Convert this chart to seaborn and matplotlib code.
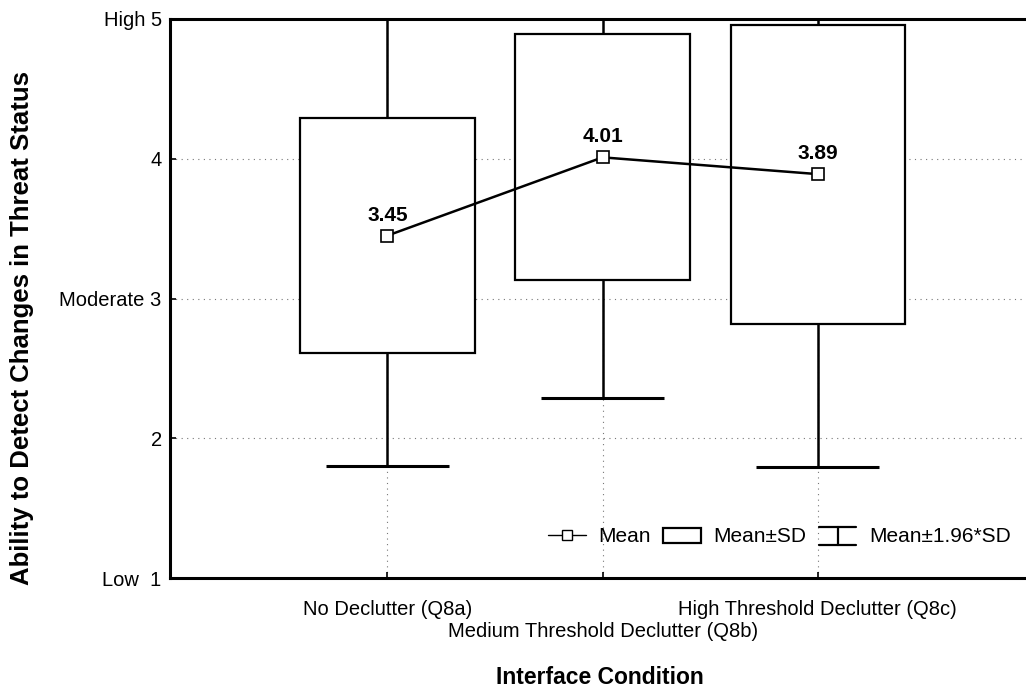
import numpy as np
import pandas as pd
import matplotlib
matplotlib.use("Agg")
import matplotlib.pyplot as plt
import seaborn as sns
from matplotlib.lines import Line2D
from matplotlib.patches import Rectangle
from matplotlib.legend_handler import HandlerBase

# values
conditions = ["No Declutter (Q8a)", "Medium Threshold Declutter (Q8b)", "High Threshold Declutter (Q8c)"]
means = [3.45, 4.01, 3.89]
sds = [0.84, 0.88, 1.07]
ytick_vals = [1, 2, 3, 4, 5]
ytick_labels = ["Low  1", "2", "Moderate 3", "4", "High 5"]

sns.set_style("white")
plt.rcParams['font.family'] = ['Liberation Sans', 'DejaVu Sans']
plt.rcParams['text.color'] = 'black'
plt.rcParams['axes.labelcolor'] = 'black'
plt.rcParams['xtick.color'] = 'black'
plt.rcParams['ytick.color'] = 'black'

df = pd.DataFrame({'condition': conditions, 'mean': means, 'sd': sds})
df['pos'] = np.arange(len(df))
df['lo_sd'] = df['mean'] - df['sd']
df['hi_sd'] = df['mean'] + df['sd']
df['lo_ci'] = df['mean'] - 1.96 * df['sd']
df['hi_ci'] = df['mean'] + 1.96 * df['sd']

fig = plt.figure(figsize=(10.26, 6.89), dpi=100)
ax = fig.add_axes([170 / 1026, 111 / 689, 863 / 1026, 559 / 689])

# dotted grid behind everything
ax.grid(True, linestyle=(0, (1, 4)), color='#777777', linewidth=0.8, zorder=0)

# whiskers (mean +/- 1.96*SD)
ax.vlines(df['pos'], df['lo_ci'], df['hi_ci'], color='black', lw=1.8, zorder=2)
ax.hlines(df['lo_ci'], df['pos'] - 0.285, df['pos'] + 0.285, color='black', lw=2.2, zorder=2)
ax.hlines(df['hi_ci'], df['pos'] - 0.285, df['pos'] + 0.285, color='black', lw=2.2, zorder=2)

# boxes (mean +/- SD)
ax.bar(df['pos'], 2 * df['sd'], bottom=df['lo_sd'], width=0.81,
       facecolor='white', edgecolor='black', linewidth=1.6, zorder=3)

# mean line
sns.lineplot(x=df['pos'], y=df['mean'], ax=ax, color='black', lw=1.8,
             marker='s', markersize=8, markerfacecolor='white',
             markeredgecolor='black', markeredgewidth=1.2, zorder=4)
for p, m in zip(df['pos'], df['mean']):
    ax.annotate(f"{m:.2f}", (p, m), xytext=(0, 8), textcoords='offset points',
                ha='center', va='bottom', fontsize=15, fontweight='bold',
                color='black', zorder=5)

ax.set_xlim(-1.01, 3.0)
ax.set_ylim(1, 5)
ax.set_yticks(ytick_vals)
ax.set_yticklabels(ytick_labels)
ax.set_xticks(df['pos'])
ax.set_xticklabels(conditions)
ax.tick_params(axis='both', direction='in', length=4, width=1.2, labelsize=14.5,
               left=True, bottom=True, colors='black')
ax.tick_params(axis='x', pad=16)
ax.tick_params(axis='y', pad=6)
# stagger the middle label onto a second row
ax.xaxis.get_major_ticks()[1].set_pad(32)

for side in ['left', 'bottom', 'top', 'right']:
    ax.spines[side].set_visible(True)
    ax.spines[side].set_color('black')
    ax.spines[side].set_linewidth(2.2)

ax.set_xlabel("Interface Condition", fontsize=16.5, fontweight='bold')
ax.set_ylabel("Ability to Detect Changes in Threat Status", fontsize=18.5, fontweight='bold')
ax.xaxis.set_label_coords(0.498, -0.178)
ax.xaxis.label.set_va('center')
ax.yaxis.set_label_coords(-0.172, 0.447)
ax.yaxis.label.set_va('center')


class HandlerWhisker(HandlerBase):
    def create_artists(self, legend, orig_handle, xdescent, ydescent,
                       width, height, fontsize, trans):
        x0, x1 = -xdescent, -xdescent + width
        xm = (x0 + x1) / 2
        y0 = -ydescent - height * 0.15
        y1 = -ydescent + height * 1.05
        parts = [Line2D([x0, x1], [y1, y1]), Line2D([x0, x1], [y0, y0]),
                 Line2D([xm, xm], [y0, y1])]
        for ln in parts:
            ln.set_color('black')
            ln.set_linewidth(1.6)
            ln.set_transform(trans)
        return parts


h_mean = Line2D([], [], color='black', lw=1.0, marker='s', markersize=7,
                markerfacecolor='white', markeredgecolor='black')
h_box = Rectangle((0, 0), 1, 1, facecolor='white', edgecolor='black', linewidth=1.6)
h_whisk = object()
fig.legend([h_mean, h_box, h_whisk], ["Mean", "Mean±SD", "Mean±1.96*SD"],
           handler_map={h_whisk: HandlerWhisker()}, ncol=3, frameon=False,
           loc='center right', bbox_to_anchor=(1023 / 1026, 1 - 537 / 689),
           fontsize=15, handlelength=1.8, handletextpad=0.6,
           columnspacing=0.6, borderpad=0.1)

fig.savefig("out.png", dpi=100)
